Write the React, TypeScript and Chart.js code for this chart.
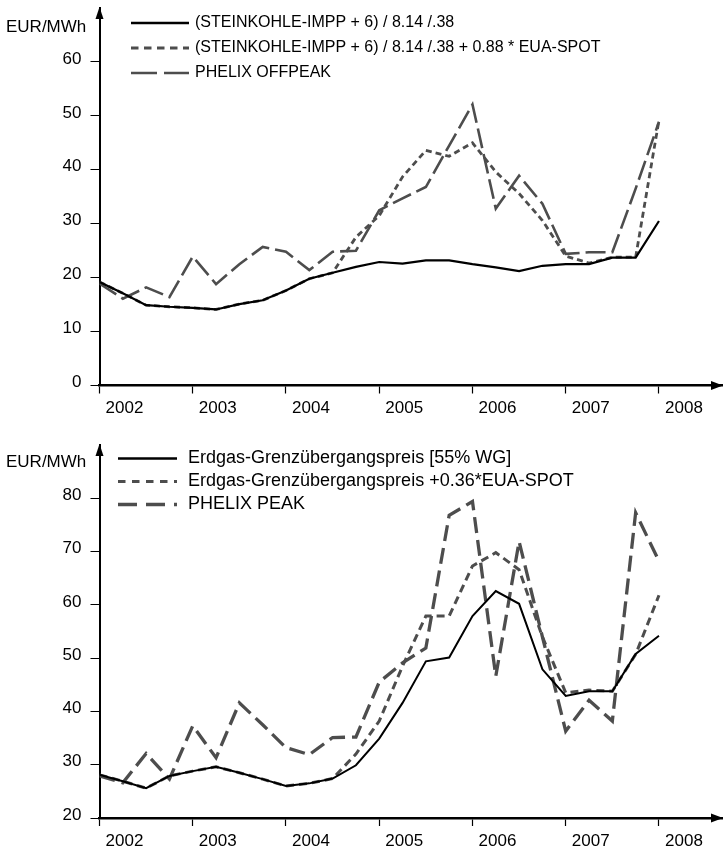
import React, { useEffect, useRef } from 'react';
import { Chart, registerables } from 'chart.js';

Chart.register(...registerables);

const FONT = "'Liberation Sans', Arial, Helvetica, sans-serif";

// Quarterly positions (2002 Q1 ... 2008 Q1)
const quarterX = [
  2002, 2002.25, 2002.5, 2002.75,
  2003, 2003.25, 2003.5, 2003.75,
  2004, 2004.25, 2004.5, 2004.75,
  2005, 2005.25, 2005.5, 2005.75,
  2006, 2006.25, 2006.5, 2006.75,
  2007, 2007.25, 2007.5, 2007.75,
  2008,
];

const yearTicks = [2002, 2003, 2004, 2005, 2006, 2007, 2008];

// Top chart (EUR/MWh)
const topYTicks = [0, 10, 20, 30, 40, 50, 60];
const steinkohle = [19.2, 17.1, 14.9, 14.6, 14.4, 14.1, 15.1, 15.8, 17.6, 19.8, 20.9, 22.0, 22.9, 22.6, 23.2, 23.2, 22.5, 21.9, 21.2, 22.2, 22.5, 22.5, 23.7, 23.7, 30.5];
const steinkohleEua = [19.2, 17.1, 14.9, 14.6, 14.4, 14.1, 15.1, 15.8, 17.6, 19.8, 20.9, 27.5, 31.5, 38.7, 43.6, 42.5, 45.0, 39.6, 35.6, 30.6, 24.0, 22.7, 23.8, 23.8, 49.2];
const phelixOffpeak = [18.9, 16.1, 18.2, 16.4, 23.9, 18.8, 22.5, 25.7, 24.8, 21.4, 24.8, 25.0, 32.5, 34.7, 36.8, 44.5, 52.1, 32.8, 38.9, 33.7, 24.4, 24.7, 24.7, 36.5, 48.9];

// Bottom chart (EUR/MWh)
const bottomYTicks = [20, 30, 40, 50, 60, 70, 80];
const erdgas = [28.1, 26.9, 25.6, 27.9, 28.8, 29.6, 28.5, 27.3, 26.0, 26.5, 27.4, 29.9, 34.9, 41.6, 49.4, 50.1, 57.9, 62.6, 60.2, 47.9, 42.9, 43.8, 43.8, 50.8, 54.2];
const erdgasEua = [28.1, 26.9, 25.6, 27.9, 28.8, 29.6, 28.5, 27.3, 26.0, 26.5, 27.4, 32.0, 38.2, 48.5, 57.9, 57.9, 67.3, 69.8, 66.6, 54.0, 43.5, 44.0, 43.8, 50.7, 61.8];
const phelixPeak = [27.9, 26.6, 32.1, 27.3, 37.3, 31.3, 41.6, 37.5, 33.2, 31.9, 35.1, 35.2, 45.5, 49.1, 51.9, 76.8, 79.4, 46.6, 71.9, 54.0, 36.3, 42.1, 38.2, 77.3, 68.2];

const topLabels = [
  '(STEINKOHLE-IMPP + 6) / 8.14 /.38',
  '(STEINKOHLE-IMPP + 6) / 8.14 /.38 + 0.88 * EUA-SPOT',
  'PHELIX OFFPEAK',
];
const bottomLabels = [
  'Erdgas-Grenzübergangspreis [55% WG]',
  'Erdgas-Grenzübergangspreis +0.36*EUA-SPOT',
  'PHELIX PEAK',
];
const unitLabel = 'EUR/MWh';

const toPoints = (vals: number[]) => vals.map((v, i) => ({ x: quarterX[i], y: v }));

const decorPlugin = {
  id: 'decor',
  afterDraw(chart: any, _args: any, opts: any) {
    const ctx = chart.ctx;
    const { left, top, right, bottom } = chart.chartArea;
    ctx.save();
    ctx.fillStyle = '#000';
    // y-axis arrow
    ctx.beginPath();
    ctx.moveTo(left, top - 1);
    ctx.lineTo(left - 4, top + 11);
    ctx.lineTo(left + 4, top + 11);
    ctx.closePath();
    ctx.fill();
    // x-axis arrow
    ctx.beginPath();
    ctx.moveTo(right + 1, bottom);
    ctx.lineTo(right - 11, bottom - 4.5);
    ctx.lineTo(right - 11, bottom + 4.5);
    ctx.closePath();
    ctx.fill();
    // unit
    ctx.font = `17px ${FONT}`;
    ctx.textAlign = 'left';
    ctx.textBaseline = 'middle';
    ctx.fillText(opts.unit, opts.unitX, opts.unitY);
    // legend
    chart.data.datasets.forEach((ds: any, i: number) => {
      const y = opts.legendY + i * opts.legendGap;
      ctx.strokeStyle = ds.borderColor;
      ctx.lineWidth = ds.legendWidth;
      ctx.setLineDash(ds.legendDash || []);
      ctx.beginPath();
      ctx.moveTo(opts.legendX, y);
      ctx.lineTo(opts.legendX + opts.legendLen, y);
      ctx.stroke();
      ctx.setLineDash([]);
      ctx.fillStyle = '#000';
      ctx.font = `${opts.legendFontSize}px ${FONT}`;
      ctx.fillText(ds.label, opts.textX, y);
    });
    ctx.restore();
  },
};

function makeConfig(p: {
  datasets: any[];
  yMin: number;
  yMax: number;
  yTicks: number[];
  padTop: number;
  xAxisHeight: number;
  decor: any;
}) {
  return {
    type: 'line',
    data: { datasets: p.datasets },
    plugins: [decorPlugin],
    options: {
      animation: false,
      responsive: false,
      devicePixelRatio: 1,
      layout: { padding: { top: p.padTop, right: 1, left: 0, bottom: 0 } },
      elements: { point: { radius: 0 }, line: { tension: 0 } },
      plugins: {
        legend: { display: false },
        tooltip: { enabled: false },
        decor: p.decor,
      },
      scales: {
        x: {
          type: 'linear',
          min: 2002,
          max: 2008.676,
          afterBuildTicks: (s: any) => {
            s.ticks = yearTicks.map((v) => ({ value: v }));
          },
          afterFit: (s: any) => {
            s.height = p.xAxisHeight;
            s.paddingLeft = 0;
            s.paddingRight = 0;
          },
          ticks: {
            callback: (v: any) => String(v),
            labelOffset: 25,
            padding: 5,
            color: '#000',
            font: { family: FONT, size: 17 },
            maxRotation: 0,
            autoSkip: false,
          },
          grid: {
            drawOnChartArea: false,
            drawTicks: true,
            tickLength: 8,
            tickWidth: 1.2,
            tickColor: '#000',
          },
          border: { display: true, color: '#000', width: 2.5 },
        },
        y: {
          type: 'linear',
          min: p.yMin,
          max: p.yMax,
          afterBuildTicks: (s: any) => {
            s.ticks = p.yTicks.map((v) => ({ value: v }));
          },
          afterFit: (s: any) => {
            s.width = 99.5;
            s.paddingTop = 0;
            s.paddingBottom = 0;
          },
          ticks: {
            color: '#000',
            font: { family: FONT, size: 17 },
            padding: 9,
            labelOffset: -3,
          },
          grid: {
            drawOnChartArea: false,
            drawTicks: true,
            tickLength: 9,
            tickWidth: 1,
            tickColor: '#000',
          },
          border: { display: true, color: '#000', width: 2 },
        },
      },
    },
  };
}

export default function App() {
  const topRef = useRef<HTMLCanvasElement>(null);
  const bottomRef = useRef<HTMLCanvasElement>(null);

  useEffect(() => {
    const gray = '#4d4d4d';
    const topChart = new Chart(topRef.current as HTMLCanvasElement, makeConfig({
      datasets: [
        { label: topLabels[0], data: toPoints(steinkohle), borderColor: '#000', borderWidth: 2.2, legendWidth: 2.3, legendDash: [] },
        { label: topLabels[1], data: toPoints(steinkohleEua), borderColor: gray, borderWidth: 2.8, borderDash: [6, 4], legendWidth: 2.8, legendDash: [7.5, 5.5] },
        { label: topLabels[2], data: toPoints(phelixOffpeak), borderColor: gray, borderWidth: 2.6, borderDash: [20, 6], legendWidth: 2.6, legendDash: [26, 7] },
      ],
      yMin: 0,
      yMax: 70,
      yTicks: topYTicks,
      padTop: 8,
      xAxisHeight: 39.5,
      decor: { unit: unitLabel, unitX: 6, unitY: 27, legendX: 131, legendLen: 58, textX: 195, legendY: 23, legendGap: 25, legendFontSize: 16 },
    }) as any);

    const bottomChart = new Chart(bottomRef.current as HTMLCanvasElement, makeConfig({
      datasets: [
        { label: bottomLabels[0], data: toPoints(erdgas), borderColor: '#000', borderWidth: 2, legendWidth: 2.3, legendDash: [] },
        { label: bottomLabels[1], data: toPoints(erdgasEua), borderColor: gray, borderWidth: 3, borderDash: [8, 5], legendWidth: 3, legendDash: [7.5, 6.5] },
        { label: bottomLabels[2], data: toPoints(phelixPeak), borderColor: gray, borderWidth: 3.3, borderDash: [16, 7], legendWidth: 3.3, legendDash: [19, 9] },
      ],
      yMin: 20,
      yMax: 90,
      yTicks: bottomYTicks,
      padTop: 20,
      xAxisHeight: 33,
      decor: { unit: unitLabel, unitX: 6, unitY: 37, legendX: 118, legendLen: 59, textX: 188, legendY: 33.5, legendGap: 23, legendFontSize: 18 },
    }) as any);

    return () => {
      topChart.destroy();
      bottomChart.destroy();
    };
  }, []);

  return (
    <div style={{ position: 'absolute', left: 0, top: 0, width: 723, height: 851, background: '#fff' }}>
      <canvas ref={topRef} width={723} height={425} style={{ position: 'absolute', left: 0, top: 0, width: 723, height: 425 }} />
      <canvas ref={bottomRef} width={723} height={426} style={{ position: 'absolute', left: 0, top: 425, width: 723, height: 426 }} />
    </div>
  );
}
